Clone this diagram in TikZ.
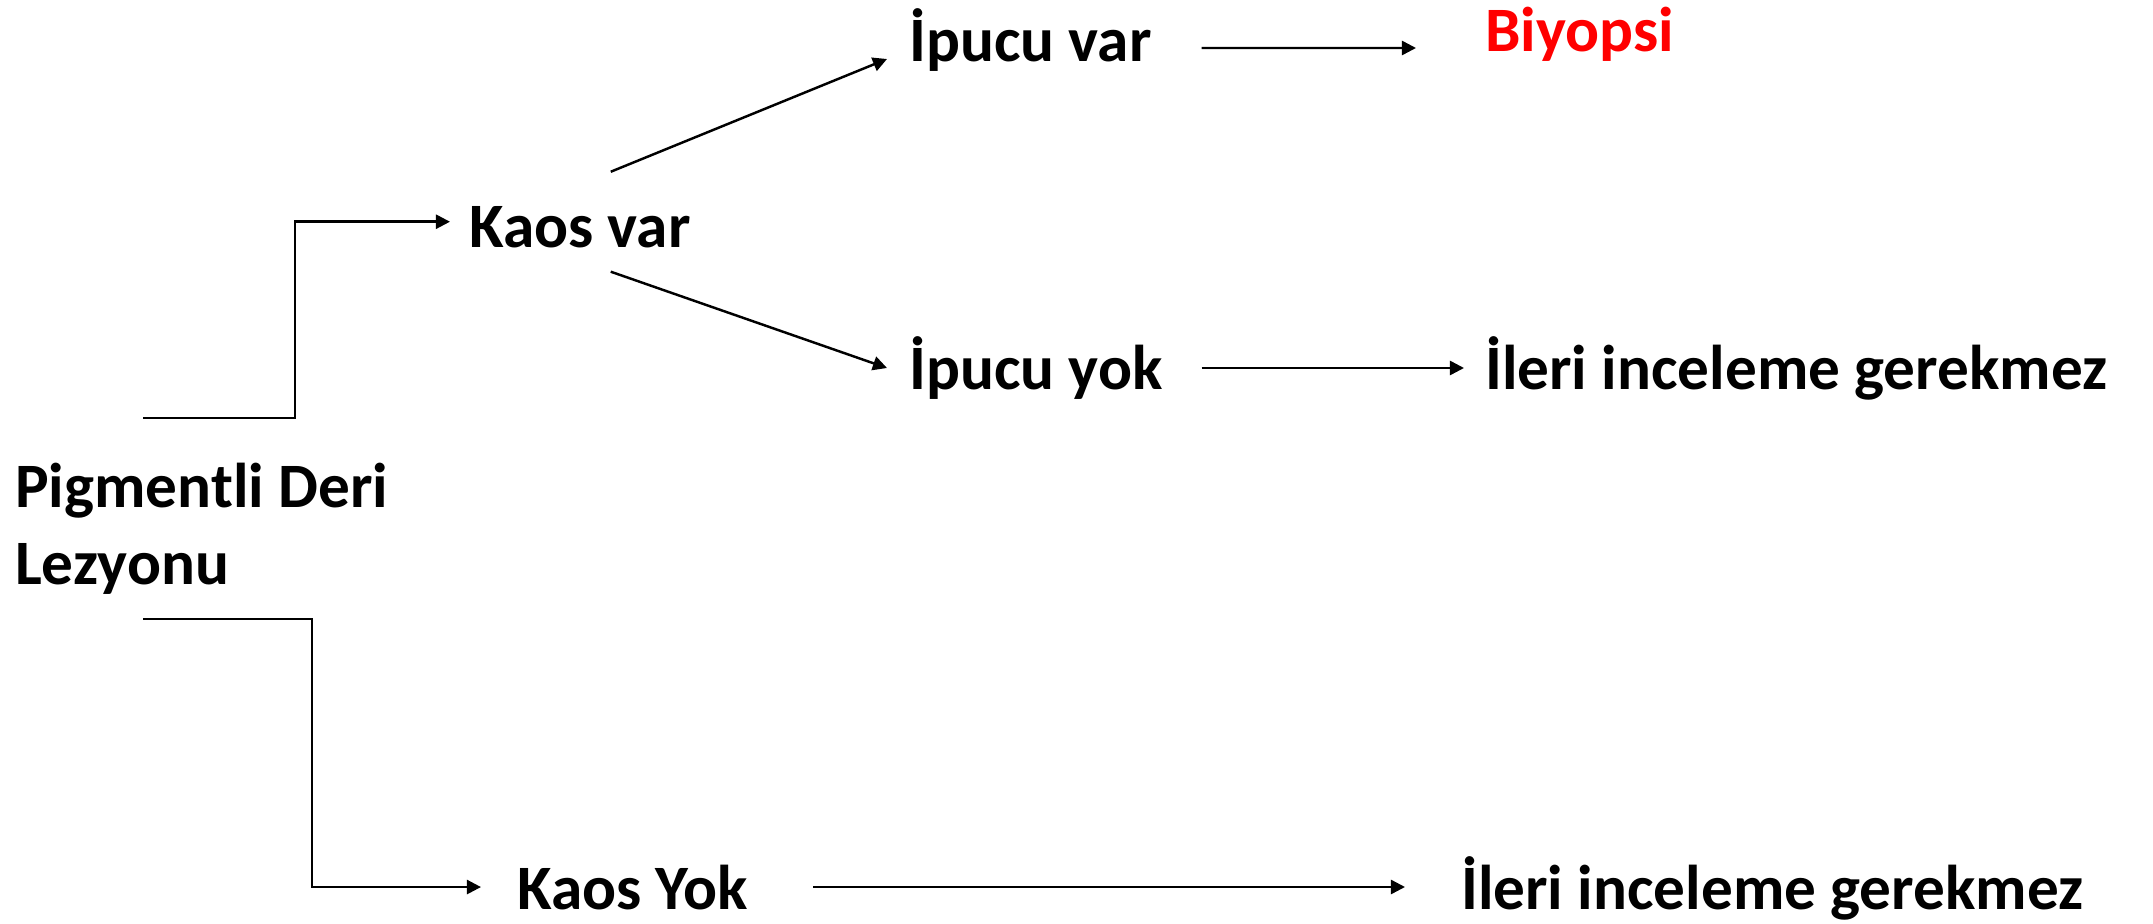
\documentclass[tikz,border=0pt]{standalone}
\usepackage{fontspec}
\setmainfont{Carlito}
\usetikzlibrary{arrows.meta}

\begin{document}
\begin{tikzpicture}[%
    >={Triangle[length=4pt,width=4pt]},
    line width=0.7pt,
    label/.style={anchor=base west, inner sep=0pt,
      font=\fontsize{18}{22}\selectfont\bfseries},
    link/.style={->}
  ]
    \useasboundingbox (0,0) rectangle (21.53,9.23);

    \node[label, anchor=west, align=left] (P) at (0.14,3.94) {Pigmentli Deri\\Lezyonu};
    \node[label] (KV) at (4.68,6.76) {Kaos var};
    \node[label] (KY) at (5.16,0.14) {Kaos Yok};
    \node[label] (IV) at (9.08,8.61) {İpucu var};
    \node[label] (IY) at (9.08,5.34) {İpucu yok};
    \node[label, red] (B) at (14.84,8.71) {Biyopsi};
    \node[label] (G1) at (14.84,5.34) {İleri inceleme gerekmez};
    \node[label] (G2) at (14.60,0.14) {İleri inceleme gerekmez};

    % elbows out of the lesion
    \draw[link, shorten >=0.18cm] ([xshift=1.29cm,yshift=0.44cm]P.north west)
      -- ++(1.52,0) |- ([yshift=0.05cm]KV.west);
    \draw[link, shorten >=0.35cm] ([xshift=1.29cm,yshift=-0.23cm]P.south west)
      -- ++(1.69,0) |- (KY.west);

    % branches
    \draw[link] ([xshift=-0.81cm,yshift=0.33cm]KV.north east)
      -- ([xshift=-0.21cm,yshift=0.03cm]IV.base west);
    \draw[link] ([xshift=-0.81cm,yshift=-0.23cm]KV.south east)
      -- ([xshift=-0.21cm,yshift=0.21cm]IY.base west);
    \draw[link] ([xshift=0.49cm,yshift=0.14cm]IV.base east)
      -- ([xshift=-0.68cm,yshift=0.04cm]B.base west);
    \draw[link] ([xshift=0.38cm,yshift=0.21cm]IY.base east)
      -- ([xshift=-0.20cm,yshift=0.21cm]G1.base west);
    \draw[link] ([xshift=0.64cm,yshift=0.22cm]KY.base east)
      -- ([xshift=-0.55cm,yshift=0.22cm]G2.base west);
\end{tikzpicture}
\end{document}
